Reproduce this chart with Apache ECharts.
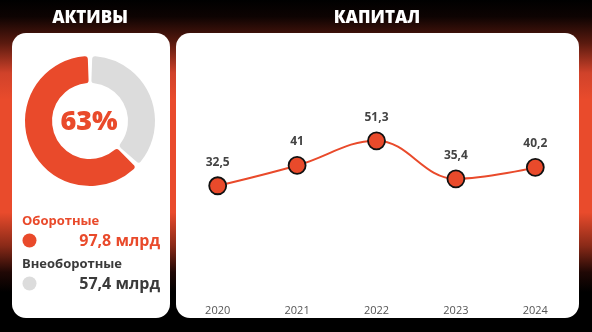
<!DOCTYPE html>
<html><head><meta charset="utf-8">
<script src="https://cdn.jsdelivr.net/npm/echarts@6/dist/echarts.min.js"></script>
<style>html,body{margin:0;padding:0;background:#000;}#c{width:592px;height:332px;}</style>
</head><body><div id="c"></div>
<script>
const years = ['2020','2021','2022','2023','2024'];
const capital = [32.5, 41, 51.3, 35.4, 40.2];
const assetNames = ['Оборотные','Внеоборотные'];
const assetValues = [97.8, 57.4];
const assetColors = ['#e94a2b','#dcdcdc'];
const assetTextColors = ['#e94a2b','#3a3a3a'];
const pctLabel = '63%';

const RED = '#e94a2b';
const FONT = '"Open Sans", "DejaVu Sans", sans-serif';
const fmt = v => String(v).replace('.', ',');

const chart = echarts.init(document.getElementById('c'), null, {renderer:'canvas'});

const graphics = [
  {type:'rect', z:-10, shape:{x:0,y:0,width:592,height:332},
   style:{fill:new echarts.graphic.LinearGradient(0,0,0,1,[
     {offset:0, color:'#000000'},
     {offset:0.05, color:'#0d0302'},
     {offset:0.13, color:'#5a1a0f'},
     {offset:0.22, color:'#d0422a'},
     {offset:0.3, color:'#e94b2c'},
     {offset:0.64, color:'#e94b2c'},
     {offset:0.74, color:'#8a2a18'},
     {offset:0.82, color:'#200805'},
     {offset:0.88, color:'#000000'},
     {offset:1, color:'#000000'}])}},
  {type:'rect', z:-5, shape:{x:12,y:33,width:158,height:285,r:14}, style:{fill:'#ffffff'}},
  {type:'rect', z:-5, shape:{x:176,y:33,width:403,height:285,r:14}, style:{fill:'#ffffff'}},
  {type:'text', style:{x:90,y:18,text:'АКТИВЫ',fill:'#fff',font:'900 17px '+FONT,align:'center',verticalAlign:'middle'}},
  {type:'text', style:{x:377,y:18,text:'КАПИТАЛ',fill:'#fff',font:'900 17px '+FONT,align:'center',verticalAlign:'middle'}},
  {type:'text', style:{x:89,y:122,text:pctLabel,fill:RED,font:'800 27px '+FONT,align:'center',verticalAlign:'middle'}}
];
assetNames.forEach((n,i)=>{
  const y0 = 221 + i*43;
  graphics.push({type:'text', style:{x:22,y:y0,text:n,fill:assetTextColors[i],font:'bold 13px '+FONT,align:'left',verticalAlign:'middle'}});
  graphics.push({type:'circle', shape:{cx:29.5,cy:y0+19.5,r:7}, style:{fill:assetColors[i]}});
  graphics.push({type:'text', style:{x:160,y:y0+20,text:fmt(assetValues[i])+' млрд',fill:assetTextColors[i],font:'bold 16px '+FONT,align:'right',verticalAlign:'middle'}});
});

chart.setOption({
  animation:false,
  graphic: graphics,
  grid:{left:178, right:17, top:120, height:143.5},
  xAxis:{type:'category', data:years, boundaryGap:true,
    axisLine:{show:false}, axisTick:{show:false},
    axisLabel:{margin:42, color:'#555', fontSize:11, fontFamily:FONT}},
  yAxis:{type:'value', min:0, max:60, show:false, splitLine:{show:false}},
  series:[
    {type:'pie', center:[90,121], radius:[38,65], startAngle:90, clockwise:false,
     padAngle:4, itemStyle:{borderRadius:3}, label:{show:false}, silent:true,
     data: assetNames.map((n,i)=>({name:n, value:assetValues[i], itemStyle:{color:assetColors[i]}}))},
    {type:'line', data:capital, smooth:0.4, symbol:'circle', symbolSize:17,
     lineStyle:{color:RED, width:2},
     itemStyle:{color:RED, borderColor:'#111', borderWidth:1.8},
     label:{show:true, position:'top', distance:8, color:'#444', fontSize:12, fontWeight:'bold', fontFamily:FONT,
       formatter:p=>fmt(p.value)}}
  ]
});
</script></body></html>
